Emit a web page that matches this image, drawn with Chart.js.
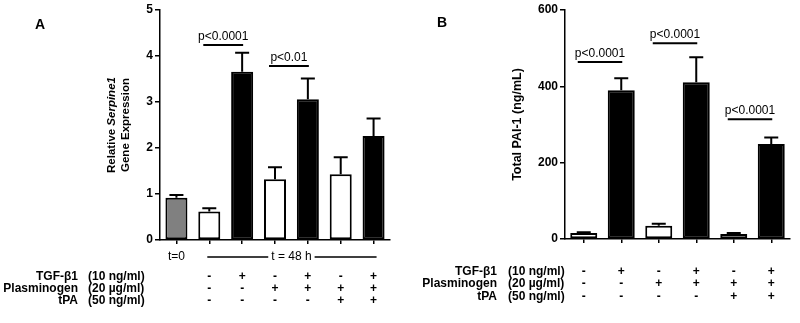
<!DOCTYPE html>
<html>
<head>
<meta charset="utf-8">
<script src="https://cdn.jsdelivr.net/npm/chart.js@4.4.1/dist/chart.umd.min.js"></script>
<style>
  body { margin: 0; background: #fff; }
  #wrap { position: relative; width: 800px; height: 323px; }
  canvas { position: absolute; top: 0; }
</style>
</head>
<body>
<div id="wrap">
  <canvas id="chartA" width="400" height="323" style="left:0"></canvas>
  <canvas id="chartB" width="400" height="323" style="left:400px"></canvas>
</div>
<script>
// panel A - Serpine1 gene expression
const groupsA = ['t0', 'ctrl', 'TGF', 'Plg', 'Plg+TGF', 'Plg+tPA', 'Plg+tPA+TGF'];
const valuesA = [0.92, 0.62, 3.66, 1.32, 3.06, 1.43, 2.26];
const errA = [0.06, 0.07, 0.41, 0.26, 0.45, 0.37, 0.38];
const colorsA = ['#808080', '#fff', '#000', '#fff', '#000', '#fff', '#000'];
const pairsA = [[1, 2, 4.24, 'p<0.0001'], [3, 4, 3.78, 'p<0.01']];

// panel B - total PAI-1
const groupsB = ['ctrl', 'TGF', 'Plg', 'Plg+TGF', 'Plg+tPA', 'Plg+tPA+TGF'];
const valuesB = [16, 390, 35, 411, 13, 249];
const errB = [2, 31, 5, 65, 3, 17];
const colorsB = ['#fff', '#000', '#fff', '#000', '#fff', '#000'];
const pairsB = [[0, 1, 464, 'p<0.0001'], [2, 3, 513, 'p<0.0001'], [4, 5, 314, 'p<0.0001']];

// treatment table (same for both panels)
const rowLabels = ['TGF-β1', 'Plasminogen', 'tPA'];
const rowUnits = ['(10 ng/ml)', '(20 µg/ml)', '(50 ng/ml)'];
const tgf = ['-', '+', '-', '+', '-', '+'];
const plg = ['-', '-', '+', '+', '+', '+'];
const tpa = ['-', '-', '-', '-', '+', '+'];
const signRows = [tgf, plg, tpa];

const FONT = 'Arial, "Liberation Sans", sans-serif';
Chart.defaults.font.family = FONT;
Chart.defaults.color = '#000';

function overlay(o) {
  return {
    id: 'overlay',
    afterDatasetsDraw(chart) {
      const ctx = chart.ctx;
      const x = chart.scales.x, y = chart.scales.y;
      const vals = chart.data.datasets[0].data;
      ctx.save();
      ctx.strokeStyle = '#000';
      ctx.fillStyle = '#000';
      ctx.lineWidth = 2;

      // error bars (upper only)
      vals.forEach((v, i) => {
        const cx = x.getPixelForValue(i);
        const y0 = y.getPixelForValue(v);
        const y1 = y.getPixelForValue(v + o.errs[i]);
        ctx.beginPath();
        ctx.moveTo(cx, y0);
        ctx.lineTo(cx, y1);
        ctx.moveTo(cx - 7, y1);
        ctx.lineTo(cx + 7, y1);
        ctx.stroke();
      });

      // significance lines
      ctx.font = '12px ' + FONT;
      ctx.textAlign = 'center';
      ctx.textBaseline = 'alphabetic';
      o.pairs.forEach(([a, b, lvl, txt]) => {
        const xa = x.getPixelForValue(a) - 6, xb = x.getPixelForValue(b) + 1;
        const py = y.getPixelForValue(lvl);
        ctx.beginPath();
        ctx.moveTo(xa, py);
        ctx.lineTo(xb, py);
        ctx.stroke();
        ctx.fillText(txt, (xa + xb) / 2, py - 5);
      });

      // y title (rotated)
      const cy = (chart.chartArea.top + chart.chartArea.bottom) / 2;
      o.title.forEach((parts, li) => {
        ctx.save();
        ctx.translate(o.titleX[li], cy);
        ctx.rotate(-Math.PI / 2);
        ctx.textAlign = 'left';
        ctx.textBaseline = 'middle';
        let w = 0;
        parts.forEach(p => { ctx.font = p[1] + ' ' + o.titleSize + 'px ' + FONT; w += ctx.measureText(p[0]).width; });
        let px = -w / 2;
        parts.forEach(p => {
          ctx.font = p[1] + ' ' + o.titleSize + 'px ' + FONT;
          ctx.fillText(p[0], px, 0);
          px += ctx.measureText(p[0]).width;
        });
        ctx.restore();
      });

      // panel letter
      ctx.font = 'bold 14px ' + FONT;
      ctx.textAlign = 'center';
      ctx.textBaseline = 'middle';
      ctx.fillText(o.letter, o.letterX, o.letterY);

      // t=0 / t = 48 h row
      if (o.timeY) {
        ctx.font = '12px ' + FONT;
        ctx.textBaseline = 'middle';
        ctx.fillText('t=0', x.getPixelForValue(0), o.timeY);
        const xs = x.getPixelForValue(1) - 2, xe = x.getPixelForValue(6) + 3;
        const mid = (x.getPixelForValue(1) + x.getPixelForValue(6)) / 2;
        const t = 't = 48 h';
        const tw = ctx.measureText(t).width;
        ctx.fillText(t, mid, o.timeY);
        ctx.lineWidth = 1.5;
        ctx.beginPath();
        ctx.moveTo(xs, o.timeY); ctx.lineTo(mid - tw / 2 - 3, o.timeY);
        ctx.moveTo(mid + tw / 2 + 3, o.timeY); ctx.lineTo(xe, o.timeY);
        ctx.stroke();
      }

      // treatment table
      ctx.font = 'bold 12px ' + FONT;
      ctx.textBaseline = 'middle';
      o.rowsY.forEach((ry, r) => {
        ctx.textAlign = 'right';
        ctx.fillText(rowLabels[r], o.labelX, ry);
        ctx.textAlign = 'left';
        ctx.fillText(rowUnits[r], o.unitX, ry);
        ctx.textAlign = 'center';
        signRows[r].forEach((s, c) => {
          ctx.fillText(s, x.getPixelForValue(c + o.colOffset), ry);
        });
      });
      ctx.restore();
    }
  };
}

function makeChart(id, labels, vals, colors, yMax, yStep, axisW, pad, barPct, o) {
  return new Chart(document.getElementById(id), {
    type: 'bar',
    data: {
      labels: labels,
      datasets: [{
        data: vals,
        backgroundColor: colors,
        borderColor: '#000',
        borderWidth: 2,
        borderSkipped: false,
        barPercentage: barPct,
        categoryPercentage: 1
      }]
    },
    options: {
      responsive: false,
      animation: false,
      devicePixelRatio: 1,
      layout: { padding: pad },
      plugins: { legend: { display: false }, tooltip: { enabled: false } },
      scales: {
        x: {
          grid: { offset: false, drawOnChartArea: false, drawTicks: true, tickLength: 4, color: '#000', lineWidth: 1.5 },
          border: { display: true, color: '#000', width: 1.5 },
          ticks: { display: false },
          afterFit: s => { s.height = 0; }
        },
        y: {
          min: 0,
          max: yMax,
          ticks: { stepSize: yStep, color: '#000', font: { size: 12, weight: 'bold' }, padding: 2 },
          grid: { drawOnChartArea: false, drawTicks: true, tickLength: 5, color: '#000', lineWidth: 1.5 },
          border: { display: true, color: '#000', width: 1.5 },
          afterFit: s => { s.width = axisW; }
        }
      }
    },
    plugins: [overlay(o)]
  });
}

makeChart('chartA', groupsA, valuesA, colorsA, 5, 1, 160,
  { top: 10, bottom: 83, left: 0, right: 10 }, 0.67, {
    errs: errA, pairs: pairsA,
    title: [[['Relative ', 'bold'], ['Serpine1', 'bold italic']], [['Gene Expression', 'bold']]],
    titleX: [112, 126], titleSize: 11.5,
    letter: 'A', letterX: 40, letterY: 25,
    timeY: 257,
    rowsY: [277, 289, 301], labelX: 78, unitX: 88, colOffset: 1
  });

makeChart('chartB', groupsB, valuesB, colorsB, 600, 200, 165,
  { top: 10, bottom: 84, left: 0, right: 10 }, 0.72, {
    errs: errB, pairs: pairsB,
    title: [[['Total PAI-1 (ng/mL)', 'bold']]],
    titleX: [118], titleSize: 12.5,
    letter: 'B', letterX: 42, letterY: 23,
    timeY: null,
    rowsY: [272, 284, 297], labelX: 97, unitX: 108, colOffset: 0
  });
</script>
</body>
</html>
